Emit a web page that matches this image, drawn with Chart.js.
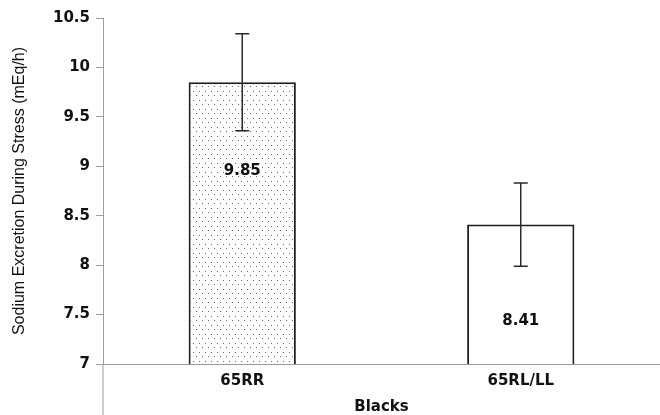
<!DOCTYPE html>
<html>
<head>
<meta charset="utf-8">
<script src="https://cdn.jsdelivr.net/npm/chart.js@4/dist/chart.umd.min.js"></script>
<style>
  html, body { margin: 0; padding: 0; background: #fff; }
  #wrap { width: 660px; height: 415px; }
</style>
</head>
<body>
<div id="wrap"><canvas id="c" width="660" height="415"></canvas></div>
<script>
// ---- data ----
const categories = ['65RR', '65RL/LL'];
const meanValues = [9.85, 8.41];
const errorValues = [0.49, 0.42];
const yTicks = [7, 7.5, 8, 8.5, 9, 9.5, 10, 10.5];
const xTitle = 'Blacks';
const yTitle = 'Sodium Excretion During Stress (mEq/h)';

// dotted pattern for first bar
function makeDots() {
  const p = document.createElement('canvas');
  p.width = 6; p.height = 9;
  const g = p.getContext('2d');
  g.fillStyle = '#ffffff';
  g.fillRect(0, 0, 6, 9);
  g.fillStyle = '#6a6a6a';
  g.fillRect(1, 1, 1, 1);
  g.fillRect(4, 5, 1, 1);
  return document.getElementById('c').getContext('2d').createPattern(p, 'repeat');
}

const axisGray = '#9c9c9c';
const tickFont = { family: 'DejaVu Sans', weight: 'bold', size: 15 };

const decorPlugin = {
  id: 'decor',
  afterDatasetsDraw(chart) {
    const ctx = chart.ctx;
    const y = chart.scales.y;
    const meta = chart.getDatasetMeta(0);
    const labelAt = [8.95, 7.43];
    ctx.save();
    // error bars
    ctx.strokeStyle = '#2a2a2a';
    ctx.lineWidth = 1.5;
    meta.data.forEach((bar, i) => {
      const x = bar.x;
      const yHi = y.getPixelForValue(meanValues[i] + errorValues[i]);
      const yLo = y.getPixelForValue(meanValues[i] - errorValues[i]);
      ctx.beginPath();
      ctx.moveTo(x, yHi); ctx.lineTo(x, yLo);
      ctx.moveTo(x - 7, yHi); ctx.lineTo(x + 7, yHi);
      ctx.moveTo(x - 7, yLo); ctx.lineTo(x + 7, yLo);
      ctx.stroke();
    });
    // value labels
    ctx.fillStyle = '#111';
    ctx.font = 'bold 15px "DejaVu Sans"';
    ctx.textAlign = 'center';
    ctx.textBaseline = 'middle';
    meta.data.forEach((bar, i) => {
      ctx.fillText(meanValues[i].toFixed(2), bar.x, y.getPixelForValue(labelAt[i]));
    });
    ctx.restore();
  },
  afterDraw(chart) {
    // y axis line continues below the x axis
    const ctx = chart.ctx;
    const a = chart.chartArea;
    ctx.save();
    ctx.strokeStyle = axisGray;
    ctx.lineWidth = 1;
    ctx.beginPath();
    ctx.moveTo(a.left, a.bottom);
    ctx.lineTo(a.left, chart.height);
    ctx.stroke();
    ctx.restore();
  }
};

new Chart(document.getElementById('c'), {
  type: 'bar',
  data: {
    labels: categories,
    datasets: [{
      data: meanValues,
      backgroundColor: [makeDots(), '#ffffff'],
      borderColor: '#1e1e1e',
      borderWidth: 2,
      borderSkipped: false,
      barPercentage: 0.385,
      categoryPercentage: 1
    }]
  },
  options: {
    responsive: false,
    animation: false,
    devicePixelRatio: 1,
    layout: { padding: { top: 18, right: 0, bottom: 0, left: 0 } },
    plugins: { legend: { display: false }, tooltip: { enabled: false } },
    scales: {
      x: {
        grid: { display: true, drawOnChartArea: false, drawTicks: false },
        border: { display: true, color: axisGray, width: 1 },
        ticks: { color: '#111', font: { family: 'DejaVu Sans', weight: 'bold', size: 15 }, padding: 8 },
        title: { display: true, text: xTitle, color: '#111', font: { family: 'DejaVu Sans', weight: 'bold', size: 15, lineHeight: 1.1 }, padding: { top: 0, bottom: 0 } },
        afterFit(s) { s.height = 51; }
      },
      y: {
        min: 7, max: 10.5,
        afterBuildTicks(s) { s.ticks = yTicks.map(v => ({ value: v })); },
        grid: { display: true, drawOnChartArea: false, drawTicks: true, tickLength: 7, color: axisGray },
        border: { display: true, color: axisGray, width: 1 },
        ticks: { color: '#111', font: tickFont, padding: 6, callback: v => String(v) },
        title: { display: true, text: yTitle, color: '#111', font: { family: 'Liberation Sans', size: 16, lineHeight: 1.2 }, padding: { top: 10, bottom: 0 } },
        afterFit(s) { s.width = 103; }
      }
    }
  },
  plugins: [decorPlugin]
});
</script>
</body>
</html>
